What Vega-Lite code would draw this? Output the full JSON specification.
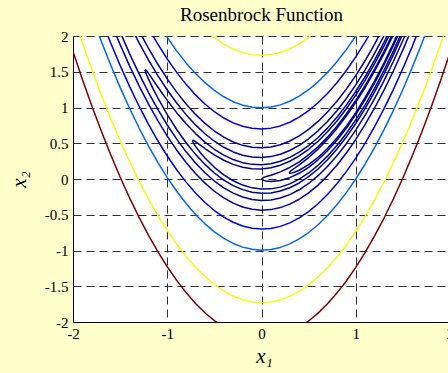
{
  "$schema": "https://vega.github.io/schema/vega-lite/v6.json",
  "width": 377,
  "height": 286,
  "autosize": {"type": "none"},
  "padding": {"left": 73, "top": 36, "right": 0, "bottom": 51},
  "background": "#ffffcc",
  "config": {
    "view": {"fill": "white", "stroke": null},
    "font": "Liberation Serif",
    "axis": {
      "domainColor": "black",
      "domainWidth": 1,
      "ticks": false,
      "grid": true,
      "gridColor": "#303030",
      "gridDash": [8, 5],
      "gridWidth": 1,
      "gridOpacity": 1,
      "labelFont": "Liberation Serif",
      "labelFontSize": 15,
      "labelColor": "black",
      "labelFlush": false,
      "labelOverlap": false,
      "labelExpr": "'' + datum.value",
      "titleFont": "Liberation Serif",
      "titleFontStyle": "italic",
      "titleFontWeight": "normal",
      "titleFontSize": 21,
      "titleColor": "black"
    }
  },
  "title": {
    "text": "Rosenbrock Function",
    "font": "Liberation Serif",
    "fontSize": 19,
    "fontWeight": "normal",
    "color": "black",
    "anchor": "middle",
    "offset": 4
  },
  "data": {
    "values": [
      {"lv":500,"br":"lo","x1":-2,"x2":1.784},{"lv":500,"br":"lo","x1":-1.9,"x2":1.393},{"lv":500,"br":"lo","x1":-1.8,"x2":1.0215},{"lv":500,"br":"lo","x1":-1.7,"x2":0.67},{"lv":500,"br":"lo","x1":-1.6,"x2":0.339},{"lv":500,"br":"lo","x1":-1.5,"x2":0.028},{"lv":500,"br":"lo","x1":-1.4,"x2":-0.263},{"lv":500,"br":"lo","x1":-1.3,"x2":-0.534},{"lv":500,"br":"lo","x1":-1.2,"x2":-0.785},{"lv":500,"br":"lo","x1":-1.1,"x2":-1.016},{"lv":500,"br":"lo","x1":-1,"x2":-1.227},{"lv":500,"br":"lo","x1":-0.9,"x2":-1.418},{"lv":500,"br":"lo","x1":-0.8,"x2":-1.589},{"lv":500,"br":"lo","x1":-0.7,"x2":-1.74},{"lv":500,"br":"lo","x1":-0.6,"x2":-1.87},{"lv":500,"br":"lo","x1":-0.5,"x2":-1.981},{"lv":500,"br":"lo","x1":-0.4,"x2":-2.072},{"lv":500,"br":"lo","x1":0.4,"x2":-2.075},{"lv":500,"br":"lo","x1":0.5,"x2":-1.9855},{"lv":500,"br":"lo","x1":0.6,"x2":-1.876},{"lv":500,"br":"lo","x1":0.7,"x2":-1.746},{"lv":500,"br":"lo","x1":0.8,"x2":-1.596},{"lv":500,"br":"lo","x1":0.9,"x2":-1.426},{"lv":500,"br":"lo","x1":1,"x2":-1.236},{"lv":500,"br":"lo","x1":1.1,"x2":-1.026},{"lv":500,"br":"lo","x1":1.2,"x2":-0.796},{"lv":500,"br":"lo","x1":1.3,"x2":-0.546},{"lv":500,"br":"lo","x1":1.4,"x2":-0.276},{"lv":500,"br":"lo","x1":1.5,"x2":0.0145},{"lv":500,"br":"lo","x1":1.6,"x2":0.325},{"lv":500,"br":"lo","x1":1.7,"x2":0.655},{"lv":500,"br":"lo","x1":1.8,"x2":1.005},{"lv":500,"br":"lo","x1":1.9,"x2":1.376},{"lv":500,"br":"lo","x1":2,"x2":1.766},

      {"lv":300,"br":"up","x1":-0.6,"x2":2.085},{"lv":300,"br":"up","x1":-0.5,"x2":1.9755},{"lv":300,"br":"up","x1":-0.4,"x2":1.8864},{"lv":300,"br":"up","x1":-0.3,"x2":1.8172},{"lv":300,"br":"up","x1":-0.2,"x2":1.7679},{"lv":300,"br":"up","x1":-0.1,"x2":1.7386},{"lv":300,"br":"up","x1":0,"x2":1.7292},{"lv":300,"br":"up","x1":0.1,"x2":1.7397},{"lv":300,"br":"up","x1":0.2,"x2":1.7702},{"lv":300,"br":"up","x1":0.3,"x2":1.8206},{"lv":300,"br":"up","x1":0.4,"x2":1.891},{"lv":300,"br":"up","x1":0.5,"x2":1.9813},{"lv":300,"br":"up","x1":0.6,"x2":2.0916},

      {"lv":300,"br":"lo","x1":-2,"x2":2.294},{"lv":300,"br":"lo","x1":-1.9,"x2":1.9024},{"lv":300,"br":"lo","x1":-1.8,"x2":1.5307},{"lv":300,"br":"lo","x1":-1.7,"x2":1.1791},{"lv":300,"br":"lo","x1":-1.6,"x2":0.8476},{"lv":300,"br":"lo","x1":-1.5,"x2":0.5361},{"lv":300,"br":"lo","x1":-1.4,"x2":0.2447},{"lv":300,"br":"lo","x1":-1.3,"x2":-0.0267},{"lv":300,"br":"lo","x1":-1.2,"x2":-0.278},{"lv":300,"br":"lo","x1":-1.1,"x2":-0.5093},{"lv":300,"br":"lo","x1":-1,"x2":-0.7205},{"lv":300,"br":"lo","x1":-0.9,"x2":-0.9116},{"lv":300,"br":"lo","x1":-0.8,"x2":-1.0827},{"lv":300,"br":"lo","x1":-0.7,"x2":-1.2337},{"lv":300,"br":"lo","x1":-0.6,"x2":-1.3646},{"lv":300,"br":"lo","x1":-0.5,"x2":-1.4755},{"lv":300,"br":"lo","x1":-0.4,"x2":-1.5664},{"lv":300,"br":"lo","x1":-0.3,"x2":-1.6372},{"lv":300,"br":"lo","x1":-0.2,"x2":-1.6879},{"lv":300,"br":"lo","x1":-0.1,"x2":-1.7186},{"lv":300,"br":"lo","x1":0,"x2":-1.7292},{"lv":300,"br":"lo","x1":0.1,"x2":-1.7197},{"lv":300,"br":"lo","x1":0.2,"x2":-1.6902},{"lv":300,"br":"lo","x1":0.3,"x2":-1.6406},{"lv":300,"br":"lo","x1":0.4,"x2":-1.571},{"lv":300,"br":"lo","x1":0.5,"x2":-1.4813},{"lv":300,"br":"lo","x1":0.6,"x2":-1.3716},{"lv":300,"br":"lo","x1":0.7,"x2":-1.2418},{"lv":300,"br":"lo","x1":0.8,"x2":-1.0919},{"lv":300,"br":"lo","x1":0.9,"x2":-0.922},{"lv":300,"br":"lo","x1":1,"x2":-0.7321},{"lv":300,"br":"lo","x1":1.1,"x2":-0.522},{"lv":300,"br":"lo","x1":1.2,"x2":-0.2919},{"lv":300,"br":"lo","x1":1.3,"x2":-0.0418},{"lv":300,"br":"lo","x1":1.4,"x2":0.2284},{"lv":300,"br":"lo","x1":1.5,"x2":0.5187},{"lv":300,"br":"lo","x1":1.6,"x2":0.829},{"lv":300,"br":"lo","x1":1.7,"x2":1.1594},{"lv":300,"br":"lo","x1":1.8,"x2":1.5098},{"lv":300,"br":"lo","x1":1.9,"x2":1.8803},{"lv":300,"br":"lo","x1":2,"x2":2.2708},

      {"lv":100,"br":"up","x1":-1.1,"x2":2.1877},{"lv":100,"br":"up","x1":-1,"x2":1.9798},{"lv":100,"br":"up","x1":-0.9,"x2":1.7918},{"lv":100,"br":"up","x1":-0.8,"x2":1.6237},{"lv":100,"br":"up","x1":-0.7,"x2":1.4754},{"lv":100,"br":"up","x1":-0.6,"x2":1.3471},{"lv":100,"br":"up","x1":-0.5,"x2":1.2387},{"lv":100,"br":"up","x1":-0.4,"x2":1.1502},{"lv":100,"br":"up","x1":-0.3,"x2":1.0815},{"lv":100,"br":"up","x1":-0.2,"x2":1.0328},{"lv":100,"br":"up","x1":-0.1,"x2":1.0039},{"lv":100,"br":"up","x1":0,"x2":0.995},{"lv":100,"br":"up","x1":0.1,"x2":1.0059},{"lv":100,"br":"up","x1":0.2,"x2":1.0368},{"lv":100,"br":"up","x1":0.3,"x2":1.0876},{"lv":100,"br":"up","x1":0.4,"x2":1.1582},{"lv":100,"br":"up","x1":0.5,"x2":1.2488},{"lv":100,"br":"up","x1":0.6,"x2":1.3592},{"lv":100,"br":"up","x1":0.7,"x2":1.4896},{"lv":100,"br":"up","x1":0.8,"x2":1.6398},{"lv":100,"br":"up","x1":0.9,"x2":1.8099},{"lv":100,"br":"up","x1":1,"x2":2},{"lv":100,"br":"up","x1":1.1,"x2":2.21},

      {"lv":100,"br":"lo","x1":-1.8,"x2":2.28},{"lv":100,"br":"lo","x1":-1.7,"x2":1.9271},{"lv":100,"br":"lo","x1":-1.6,"x2":1.5944},{"lv":100,"br":"lo","x1":-1.5,"x2":1.2818},{"lv":100,"br":"lo","x1":-1.4,"x2":0.9892},{"lv":100,"br":"lo","x1":-1.3,"x2":0.7168},{"lv":100,"br":"lo","x1":-1.2,"x2":0.4645},{"lv":100,"br":"lo","x1":-1.1,"x2":0.2323},{"lv":100,"br":"lo","x1":-1,"x2":0.0202},{"lv":100,"br":"lo","x1":-0.9,"x2":-0.1718},{"lv":100,"br":"lo","x1":-0.8,"x2":-0.3437},{"lv":100,"br":"lo","x1":-0.7,"x2":-0.4954},{"lv":100,"br":"lo","x1":-0.6,"x2":-0.6271},{"lv":100,"br":"lo","x1":-0.5,"x2":-0.7387},{"lv":100,"br":"lo","x1":-0.4,"x2":-0.8302},{"lv":100,"br":"lo","x1":-0.3,"x2":-0.9015},{"lv":100,"br":"lo","x1":-0.2,"x2":-0.9528},{"lv":100,"br":"lo","x1":-0.1,"x2":-0.9839},{"lv":100,"br":"lo","x1":0,"x2":-0.995},{"lv":100,"br":"lo","x1":0.1,"x2":-0.9859},{"lv":100,"br":"lo","x1":0.2,"x2":-0.9568},{"lv":100,"br":"lo","x1":0.3,"x2":-0.9076},{"lv":100,"br":"lo","x1":0.4,"x2":-0.8382},{"lv":100,"br":"lo","x1":0.5,"x2":-0.7488},{"lv":100,"br":"lo","x1":0.6,"x2":-0.6392},{"lv":100,"br":"lo","x1":0.7,"x2":-0.5096},{"lv":100,"br":"lo","x1":0.8,"x2":-0.3598},{"lv":100,"br":"lo","x1":0.9,"x2":-0.19},{"lv":100,"br":"lo","x1":1,"x2":0},{"lv":100,"br":"lo","x1":1.1,"x2":0.21},{"lv":100,"br":"lo","x1":1.2,"x2":0.4402},{"lv":100,"br":"lo","x1":1.3,"x2":0.6905},{"lv":100,"br":"lo","x1":1.4,"x2":0.9608},{"lv":100,"br":"lo","x1":1.5,"x2":1.2513},{"lv":100,"br":"lo","x1":1.6,"x2":1.5618},{"lv":100,"br":"lo","x1":1.7,"x2":1.8925},{"lv":100,"br":"lo","x1":1.8,"x2":2.2432},

      {"lv":50,"br":"up","x1":-1.2,"x2":2.112},{"lv":50,"br":"up","x1":-1.1,"x2":1.8852},{"lv":50,"br":"up","x1":-1,"x2":1.6782},{"lv":50,"br":"up","x1":-0.9,"x2":1.4911},{"lv":50,"br":"up","x1":-0.8,"x2":1.3238},{"lv":50,"br":"up","x1":-0.7,"x2":1.1764},{"lv":50,"br":"up","x1":-0.6,"x2":1.0488},{"lv":50,"br":"up","x1":-0.5,"x2":0.941},{"lv":50,"br":"up","x1":-0.4,"x2":0.8531},{"lv":50,"br":"up","x1":-0.3,"x2":0.7851},{"lv":50,"br":"up","x1":-0.2,"x2":0.7369},{"lv":50,"br":"up","x1":-0.1,"x2":0.7085},{"lv":50,"br":"up","x1":0,"x2":0.7},{"lv":50,"br":"up","x1":0.1,"x2":0.7114},{"lv":50,"br":"up","x1":0.2,"x2":0.7426},{"lv":50,"br":"up","x1":0.3,"x2":0.7936},{"lv":50,"br":"up","x1":0.4,"x2":0.8646},{"lv":50,"br":"up","x1":0.5,"x2":0.9553},{"lv":50,"br":"up","x1":0.6,"x2":1.066},{"lv":50,"br":"up","x1":0.7,"x2":1.1965},{"lv":50,"br":"up","x1":0.8,"x2":1.3468},{"lv":50,"br":"up","x1":0.9,"x2":1.517},{"lv":50,"br":"up","x1":1,"x2":1.7071},{"lv":50,"br":"up","x1":1.1,"x2":1.917},{"lv":50,"br":"up","x1":1.2,"x2":2.1468},

      {"lv":50,"br":"lo","x1":-1.7,"x2":2.2365},{"lv":50,"br":"lo","x1":-1.6,"x2":1.9024},{"lv":50,"br":"lo","x1":-1.5,"x2":1.5886},{"lv":50,"br":"lo","x1":-1.4,"x2":1.2949},{"lv":50,"br":"lo","x1":-1.3,"x2":1.0214},{"lv":50,"br":"lo","x1":-1.2,"x2":0.768},{"lv":50,"br":"lo","x1":-1.1,"x2":0.5348},{"lv":50,"br":"lo","x1":-1,"x2":0.3218},{"lv":50,"br":"lo","x1":-0.9,"x2":0.1289},{"lv":50,"br":"lo","x1":-0.8,"x2":-0.0438},{"lv":50,"br":"lo","x1":-0.7,"x2":-0.1964},{"lv":50,"br":"lo","x1":-0.6,"x2":-0.3288},{"lv":50,"br":"lo","x1":-0.5,"x2":-0.441},{"lv":50,"br":"lo","x1":-0.4,"x2":-0.5331},{"lv":50,"br":"lo","x1":-0.3,"x2":-0.6051},{"lv":50,"br":"lo","x1":-0.2,"x2":-0.6569},{"lv":50,"br":"lo","x1":-0.1,"x2":-0.6885},{"lv":50,"br":"lo","x1":0,"x2":-0.7},{"lv":50,"br":"lo","x1":0.1,"x2":-0.6914},{"lv":50,"br":"lo","x1":0.2,"x2":-0.6626},{"lv":50,"br":"lo","x1":0.3,"x2":-0.6136},{"lv":50,"br":"lo","x1":0.4,"x2":-0.5446},{"lv":50,"br":"lo","x1":0.5,"x2":-0.4553},{"lv":50,"br":"lo","x1":0.6,"x2":-0.346},{"lv":50,"br":"lo","x1":0.7,"x2":-0.2165},{"lv":50,"br":"lo","x1":0.8,"x2":-0.0668},{"lv":50,"br":"lo","x1":0.9,"x2":0.103},{"lv":50,"br":"lo","x1":1,"x2":0.2929},{"lv":50,"br":"lo","x1":1.1,"x2":0.503},{"lv":50,"br":"lo","x1":1.2,"x2":0.7332},{"lv":50,"br":"lo","x1":1.3,"x2":0.9835},{"lv":50,"br":"lo","x1":1.4,"x2":1.254},{"lv":50,"br":"lo","x1":1.5,"x2":1.5447},{"lv":50,"br":"lo","x1":1.6,"x2":1.8554},{"lv":50,"br":"lo","x1":1.7,"x2":2.1864},

      {"lv":20,"br":"up","x1":-1.3,"x2":2.0735},{"lv":20,"br":"up","x1":-1.2,"x2":1.8294},{"lv":20,"br":"up","x1":-1.1,"x2":1.6048},{"lv":20,"br":"up","x1":-1,"x2":1.4},{"lv":20,"br":"up","x1":-0.9,"x2":1.2149},{"lv":20,"br":"up","x1":-0.8,"x2":1.0494},{"lv":20,"br":"up","x1":-0.7,"x2":0.9036},{"lv":20,"br":"up","x1":-0.6,"x2":0.7776},{"lv":20,"br":"up","x1":-0.5,"x2":0.6713},{"lv":20,"br":"up","x1":-0.4,"x2":0.5847},{"lv":20,"br":"up","x1":-0.3,"x2":0.5179},{"lv":20,"br":"up","x1":-0.2,"x2":0.4708},{"lv":20,"br":"up","x1":-0.1,"x2":0.4435},{"lv":20,"br":"up","x1":0,"x2":0.4359},{"lv":20,"br":"up","x1":0.1,"x2":0.4481},{"lv":20,"br":"up","x1":0.2,"x2":0.48},{"lv":20,"br":"up","x1":0.3,"x2":0.5317},{"lv":20,"br":"up","x1":0.4,"x2":0.6032},{"lv":20,"br":"up","x1":0.5,"x2":0.6944},{"lv":20,"br":"up","x1":0.6,"x2":0.8054},{"lv":20,"br":"up","x1":0.7,"x2":0.9362},{"lv":20,"br":"up","x1":0.8,"x2":1.0868},{"lv":20,"br":"up","x1":0.9,"x2":1.2571},{"lv":20,"br":"up","x1":1,"x2":1.4472},{"lv":20,"br":"up","x1":1.1,"x2":1.6571},{"lv":20,"br":"up","x1":1.2,"x2":1.8868},{"lv":20,"br":"up","x1":1.3,"x2":2.1362},

      {"lv":20,"br":"lo","x1":-1.6,"x2":2.1961},{"lv":20,"br":"lo","x1":-1.5,"x2":1.8792},{"lv":20,"br":"lo","x1":-1.4,"x2":1.5826},{"lv":20,"br":"lo","x1":-1.3,"x2":1.3065},{"lv":20,"br":"lo","x1":-1.2,"x2":1.0506},{"lv":20,"br":"lo","x1":-1.1,"x2":0.8152},{"lv":20,"br":"lo","x1":-1,"x2":0.6},{"lv":20,"br":"lo","x1":-0.9,"x2":0.4051},{"lv":20,"br":"lo","x1":-0.8,"x2":0.2306},{"lv":20,"br":"lo","x1":-0.7,"x2":0.0764},{"lv":20,"br":"lo","x1":-0.6,"x2":-0.0576},{"lv":20,"br":"lo","x1":-0.5,"x2":-0.1713},{"lv":20,"br":"lo","x1":-0.4,"x2":-0.2647},{"lv":20,"br":"lo","x1":-0.3,"x2":-0.3379},{"lv":20,"br":"lo","x1":-0.2,"x2":-0.3908},{"lv":20,"br":"lo","x1":-0.1,"x2":-0.4235},{"lv":20,"br":"lo","x1":0,"x2":-0.4359},{"lv":20,"br":"lo","x1":0.1,"x2":-0.4281},{"lv":20,"br":"lo","x1":0.2,"x2":-0.4},{"lv":20,"br":"lo","x1":0.3,"x2":-0.3517},{"lv":20,"br":"lo","x1":0.4,"x2":-0.2832},{"lv":20,"br":"lo","x1":0.5,"x2":-0.1944},{"lv":20,"br":"lo","x1":0.6,"x2":-0.0854},{"lv":20,"br":"lo","x1":0.7,"x2":0.0438},{"lv":20,"br":"lo","x1":0.8,"x2":0.1932},{"lv":20,"br":"lo","x1":0.9,"x2":0.3629},{"lv":20,"br":"lo","x1":1,"x2":0.5528},{"lv":20,"br":"lo","x1":1.1,"x2":0.7629},{"lv":20,"br":"lo","x1":1.2,"x2":0.9932},{"lv":20,"br":"lo","x1":1.3,"x2":1.2438},{"lv":20,"br":"lo","x1":1.4,"x2":1.5146},{"lv":20,"br":"lo","x1":1.5,"x2":1.8056},{"lv":20,"br":"lo","x1":1.6,"x2":2.1168},

      {"lv":10,"br":"up","x1":-1.4,"x2":2.1659},{"lv":10,"br":"up","x1":-1.3,"x2":1.907},{"lv":10,"br":"up","x1":-1.2,"x2":1.6672},{"lv":10,"br":"up","x1":-1.1,"x2":1.4464},{"lv":10,"br":"up","x1":-1,"x2":1.2449},{"lv":10,"br":"up","x1":-0.9,"x2":1.0628},{"lv":10,"br":"up","x1":-0.8,"x2":0.9},{"lv":10,"br":"up","x1":-0.7,"x2":0.7567},{"lv":10,"br":"up","x1":-0.6,"x2":0.6328},{"lv":10,"br":"up","x1":-0.5,"x2":0.5284},{"lv":10,"br":"up","x1":-0.4,"x2":0.4435},{"lv":10,"br":"up","x1":-0.3,"x2":0.3783},{"lv":10,"br":"up","x1":-0.2,"x2":0.3326},{"lv":10,"br":"up","x1":-0.1,"x2":0.3065},{"lv":10,"br":"up","x1":0,"x2":0.3},{"lv":10,"br":"up","x1":0.1,"x2":0.3132},{"lv":10,"br":"up","x1":0.2,"x2":0.3459},{"lv":10,"br":"up","x1":0.3,"x2":0.3984},{"lv":10,"br":"up","x1":0.4,"x2":0.4705},{"lv":10,"br":"up","x1":0.5,"x2":0.5623},{"lv":10,"br":"up","x1":0.6,"x2":0.6737},{"lv":10,"br":"up","x1":0.7,"x2":0.8048},{"lv":10,"br":"up","x1":0.8,"x2":0.9556},{"lv":10,"br":"up","x1":0.9,"x2":1.1261},{"lv":10,"br":"up","x1":1,"x2":1.3162},{"lv":10,"br":"up","x1":1.1,"x2":1.5261},{"lv":10,"br":"up","x1":1.2,"x2":1.7556},{"lv":10,"br":"up","x1":1.3,"x2":2.0048},{"lv":10,"br":"up","x1":1.4,"x2":2.2737},

      {"lv":10,"br":"lo","x1":-1.5,"x2":2.0564},{"lv":10,"br":"lo","x1":-1.4,"x2":1.7541},{"lv":10,"br":"lo","x1":-1.3,"x2":1.473},{"lv":10,"br":"lo","x1":-1.2,"x2":1.2128},{"lv":10,"br":"lo","x1":-1.1,"x2":0.9736},{"lv":10,"br":"lo","x1":-1,"x2":0.7551},{"lv":10,"br":"lo","x1":-0.9,"x2":0.5572},{"lv":10,"br":"lo","x1":-0.8,"x2":0.38},{"lv":10,"br":"lo","x1":-0.7,"x2":0.2233},{"lv":10,"br":"lo","x1":-0.6,"x2":0.0872},{"lv":10,"br":"lo","x1":-0.5,"x2":-0.0284},{"lv":10,"br":"lo","x1":-0.4,"x2":-0.1236},{"lv":10,"br":"lo","x1":-0.3,"x2":-0.1983},{"lv":10,"br":"lo","x1":-0.2,"x2":-0.2526},{"lv":10,"br":"lo","x1":-0.1,"x2":-0.2865},{"lv":10,"br":"lo","x1":0,"x2":-0.3},{"lv":10,"br":"lo","x1":0.1,"x2":-0.2932},{"lv":10,"br":"lo","x1":0.2,"x2":-0.2659},{"lv":10,"br":"lo","x1":0.3,"x2":-0.2184},{"lv":10,"br":"lo","x1":0.4,"x2":-0.1505},{"lv":10,"br":"lo","x1":0.5,"x2":-0.0623},{"lv":10,"br":"lo","x1":0.6,"x2":0.0463},{"lv":10,"br":"lo","x1":0.7,"x2":0.1752},{"lv":10,"br":"lo","x1":0.8,"x2":0.3244},{"lv":10,"br":"lo","x1":0.9,"x2":0.4939},{"lv":10,"br":"lo","x1":1,"x2":0.6838},{"lv":10,"br":"lo","x1":1.1,"x2":0.8939},{"lv":10,"br":"lo","x1":1.2,"x2":1.1244},{"lv":10,"br":"lo","x1":1.3,"x2":1.3752},{"lv":10,"br":"lo","x1":1.4,"x2":1.6463},{"lv":10,"br":"lo","x1":1.5,"x2":1.9378},{"lv":10,"br":"lo","x1":1.6,"x2":2.2495},

      {"lv":5,"br":"loop","x1":-1.2361,"x2":1.5279},{"lv":5,"br":"loop","x1":-1.23,"x2":1.5294},{"lv":5,"br":"loop","x1":-1.22,"x2":1.5152},{"lv":5,"br":"loop","x1":-1.2,"x2":1.48},{"lv":5,"br":"loop","x1":-1.15,"x2":1.3839},{"lv":5,"br":"loop","x1":-1.1,"x2":1.2868},{"lv":5,"br":"loop","x1":-1,"x2":1.1},{"lv":5,"br":"loop","x1":-0.9,"x2":0.9279},{"lv":5,"br":"loop","x1":-0.8,"x2":0.7727},{"lv":5,"br":"loop","x1":-0.7,"x2":0.6353},{"lv":5,"br":"loop","x1":-0.6,"x2":0.5162},{"lv":5,"br":"loop","x1":-0.5,"x2":0.4158},{"lv":5,"br":"loop","x1":-0.4,"x2":0.3344},{"lv":5,"br":"loop","x1":-0.3,"x2":0.2719},{"lv":5,"br":"loop","x1":-0.2,"x2":0.2287},{"lv":5,"br":"loop","x1":-0.1,"x2":0.2047},{"lv":5,"br":"loop","x1":0,"x2":0.2},{"lv":5,"br":"loop","x1":0.1,"x2":0.2147},{"lv":5,"br":"loop","x1":0.2,"x2":0.2488},{"lv":5,"br":"loop","x1":0.3,"x2":0.3024},{"lv":5,"br":"loop","x1":0.4,"x2":0.3754},{"lv":5,"br":"loop","x1":0.5,"x2":0.4679},{"lv":5,"br":"loop","x1":0.6,"x2":0.58},{"lv":5,"br":"loop","x1":0.7,"x2":0.7116},{"lv":5,"br":"loop","x1":0.8,"x2":0.8627},{"lv":5,"br":"loop","x1":0.9,"x2":1.0334},{"lv":5,"br":"loop","x1":1,"x2":1.2236},{"lv":5,"br":"loop","x1":1.1,"x2":1.4334},{"lv":5,"br":"loop","x1":1.2,"x2":1.6627},{"lv":5,"br":"loop","x1":1.3,"x2":1.9116},{"lv":5,"br":"loop","x1":1.4,"x2":2.18},{"lv":5,"br":"loop","x1":1.5,"x2":2.0321},{"lv":5,"br":"loop","x1":1.4,"x2":1.74},{"lv":5,"br":"loop","x1":1.3,"x2":1.4684},{"lv":5,"br":"loop","x1":1.2,"x2":1.2173},{"lv":5,"br":"loop","x1":1.1,"x2":0.9866},{"lv":5,"br":"loop","x1":1,"x2":0.7764},{"lv":5,"br":"loop","x1":0.9,"x2":0.5866},{"lv":5,"br":"loop","x1":0.8,"x2":0.4173},{"lv":5,"br":"loop","x1":0.7,"x2":0.2684},{"lv":5,"br":"loop","x1":0.6,"x2":0.14},{"lv":5,"br":"loop","x1":0.5,"x2":0.0321},{"lv":5,"br":"loop","x1":0.4,"x2":-0.0554},{"lv":5,"br":"loop","x1":0.3,"x2":-0.1224},{"lv":5,"br":"loop","x1":0.2,"x2":-0.1688},{"lv":5,"br":"loop","x1":0.1,"x2":-0.1947},{"lv":5,"br":"loop","x1":0,"x2":-0.2},{"lv":5,"br":"loop","x1":-0.1,"x2":-0.1847},{"lv":5,"br":"loop","x1":-0.2,"x2":-0.1487},{"lv":5,"br":"loop","x1":-0.3,"x2":-0.0919},{"lv":5,"br":"loop","x1":-0.4,"x2":-0.0144},{"lv":5,"br":"loop","x1":-0.5,"x2":0.0842},{"lv":5,"br":"loop","x1":-0.6,"x2":0.2038},{"lv":5,"br":"loop","x1":-0.7,"x2":0.3447},{"lv":5,"br":"loop","x1":-0.8,"x2":0.5073},{"lv":5,"br":"loop","x1":-0.9,"x2":0.6921},{"lv":5,"br":"loop","x1":-1,"x2":0.9},{"lv":5,"br":"loop","x1":-1.1,"x2":1.1332},{"lv":5,"br":"loop","x1":-1.15,"x2":1.2611},{"lv":5,"br":"loop","x1":-1.2,"x2":1.4},{"lv":5,"br":"loop","x1":-1.22,"x2":1.4616},{"lv":5,"br":"loop","x1":-1.23,"x2":1.4964},{"lv":5,"br":"loop","x1":-1.2361,"x2":1.5279},

      {"lv":3,"br":"loop","x1":-0.7321,"x2":0.5359},{"lv":3,"br":"loop","x1":-0.73,"x2":0.5413},{"lv":3,"br":"loop","x1":-0.72,"x2":0.5388},{"lv":3,"br":"loop","x1":-0.7,"x2":0.5232},{"lv":3,"br":"loop","x1":-0.65,"x2":0.4752},{"lv":3,"br":"loop","x1":-0.6,"x2":0.4263},{"lv":3,"br":"loop","x1":-0.5,"x2":0.3366},{"lv":3,"br":"loop","x1":-0.4,"x2":0.262},{"lv":3,"br":"loop","x1":-0.3,"x2":0.2045},{"lv":3,"br":"loop","x1":-0.2,"x2":0.1649},{"lv":3,"br":"loop","x1":-0.1,"x2":0.1438},{"lv":3,"br":"loop","x1":0,"x2":0.1414},{"lv":3,"br":"loop","x1":0.1,"x2":0.158},{"lv":3,"br":"loop","x1":0.2,"x2":0.1936},{"lv":3,"br":"loop","x1":0.3,"x2":0.2484},{"lv":3,"br":"loop","x1":0.4,"x2":0.3225},{"lv":3,"br":"loop","x1":0.5,"x2":0.4158},{"lv":3,"br":"loop","x1":0.6,"x2":0.5285},{"lv":3,"br":"loop","x1":0.7,"x2":0.6606},{"lv":3,"br":"loop","x1":0.8,"x2":0.812},{"lv":3,"br":"loop","x1":0.9,"x2":0.9829},{"lv":3,"br":"loop","x1":1,"x2":1.1732},{"lv":3,"br":"loop","x1":1.1,"x2":1.3829},{"lv":3,"br":"loop","x1":1.2,"x2":1.612},{"lv":3,"br":"loop","x1":1.3,"x2":1.8606},{"lv":3,"br":"loop","x1":1.4,"x2":2.1285},{"lv":3,"br":"loop","x1":1.5,"x2":2.0842},{"lv":3,"br":"loop","x1":1.4,"x2":1.7915},{"lv":3,"br":"loop","x1":1.3,"x2":1.5194},{"lv":3,"br":"loop","x1":1.2,"x2":1.268},{"lv":3,"br":"loop","x1":1.1,"x2":1.0371},{"lv":3,"br":"loop","x1":1,"x2":0.8268},{"lv":3,"br":"loop","x1":0.9,"x2":0.6371},{"lv":3,"br":"loop","x1":0.8,"x2":0.468},{"lv":3,"br":"loop","x1":0.7,"x2":0.3194},{"lv":3,"br":"loop","x1":0.6,"x2":0.1915},{"lv":3,"br":"loop","x1":0.5,"x2":0.0842},{"lv":3,"br":"loop","x1":0.4,"x2":-0.0025},{"lv":3,"br":"loop","x1":0.3,"x2":-0.0684},{"lv":3,"br":"loop","x1":0.2,"x2":-0.1136},{"lv":3,"br":"loop","x1":0.1,"x2":-0.138},{"lv":3,"br":"loop","x1":0,"x2":-0.1414},{"lv":3,"br":"loop","x1":-0.1,"x2":-0.1238},{"lv":3,"br":"loop","x1":-0.2,"x2":-0.0849},{"lv":3,"br":"loop","x1":-0.3,"x2":-0.0245},{"lv":3,"br":"loop","x1":-0.4,"x2":0.058},{"lv":3,"br":"loop","x1":-0.5,"x2":0.1634},{"lv":3,"br":"loop","x1":-0.6,"x2":0.2937},{"lv":3,"br":"loop","x1":-0.65,"x2":0.3698},{"lv":3,"br":"loop","x1":-0.7,"x2":0.4568},{"lv":3,"br":"loop","x1":-0.72,"x2":0.498},{"lv":3,"br":"loop","x1":-0.73,"x2":0.5245},{"lv":3,"br":"loop","x1":-0.7321,"x2":0.5359},

      {"lv":1,"br":"loop","x1":0,"x2":0},{"lv":1,"br":"loop","x1":0.02,"x2":0.0203},{"lv":1,"br":"loop","x1":0.05,"x2":0.0337},{"lv":1,"br":"loop","x1":0.1,"x2":0.0536},{"lv":1,"br":"loop","x1":0.2,"x2":0.1},{"lv":1,"br":"loop","x1":0.3,"x2":0.1614},{"lv":1,"br":"loop","x1":0.4,"x2":0.24},{"lv":1,"br":"loop","x1":0.5,"x2":0.3366},{"lv":1,"br":"loop","x1":0.6,"x2":0.4517},{"lv":1,"br":"loop","x1":0.7,"x2":0.5854},{"lv":1,"br":"loop","x1":0.8,"x2":0.738},{"lv":1,"br":"loop","x1":0.9,"x2":0.9095},{"lv":1,"br":"loop","x1":1,"x2":1.1},{"lv":1,"br":"loop","x1":1.1,"x2":1.3095},{"lv":1,"br":"loop","x1":1.2,"x2":1.538},{"lv":1,"br":"loop","x1":1.3,"x2":1.7854},{"lv":1,"br":"loop","x1":1.4,"x2":2.0517},{"lv":1,"br":"loop","x1":1.5,"x2":2.1634},{"lv":1,"br":"loop","x1":1.4,"x2":1.8683},{"lv":1,"br":"loop","x1":1.3,"x2":1.5946},{"lv":1,"br":"loop","x1":1.2,"x2":1.342},{"lv":1,"br":"loop","x1":1.1,"x2":1.1105},{"lv":1,"br":"loop","x1":1,"x2":0.9},{"lv":1,"br":"loop","x1":0.9,"x2":0.7105},{"lv":1,"br":"loop","x1":0.8,"x2":0.542},{"lv":1,"br":"loop","x1":0.7,"x2":0.3946},{"lv":1,"br":"loop","x1":0.6,"x2":0.2683},{"lv":1,"br":"loop","x1":0.5,"x2":0.1634},{"lv":1,"br":"loop","x1":0.4,"x2":0.08},{"lv":1,"br":"loop","x1":0.3,"x2":0.0186},{"lv":1,"br":"loop","x1":0.2,"x2":-0.02},{"lv":1,"br":"loop","x1":0.1,"x2":-0.0336},{"lv":1,"br":"loop","x1":0.05,"x2":-0.0287},{"lv":1,"br":"loop","x1":0.02,"x2":-0.0195},{"lv":1,"br":"loop","x1":0,"x2":0},

      {"lv":0.5,"br":"loop","x1":0.2929,"x2":0.0858},{"lv":0.5,"br":"loop","x1":0.3,"x2":0.1},{"lv":0.5,"br":"loop","x1":0.32,"x2":0.1218},{"lv":0.5,"br":"loop","x1":0.35,"x2":0.1503},{"lv":0.5,"br":"loop","x1":0.4,"x2":0.1974},{"lv":0.5,"br":"loop","x1":0.5,"x2":0.3},{"lv":0.5,"br":"loop","x1":0.6,"x2":0.4183},{"lv":0.5,"br":"loop","x1":0.7,"x2":0.554},{"lv":0.5,"br":"loop","x1":0.8,"x2":0.7078},{"lv":0.5,"br":"loop","x1":0.9,"x2":0.88},{"lv":0.5,"br":"loop","x1":1,"x2":1.0707},{"lv":0.5,"br":"loop","x1":1.1,"x2":1.28},{"lv":0.5,"br":"loop","x1":1.2,"x2":1.5078},{"lv":0.5,"br":"loop","x1":1.3,"x2":1.754},{"lv":0.5,"br":"loop","x1":1.4,"x2":2.0183},{"lv":0.5,"br":"loop","x1":1.5,"x2":2.2},{"lv":0.5,"br":"loop","x1":1.4,"x2":1.9017},{"lv":0.5,"br":"loop","x1":1.3,"x2":1.626},{"lv":0.5,"br":"loop","x1":1.2,"x2":1.3722},{"lv":0.5,"br":"loop","x1":1.1,"x2":1.14},{"lv":0.5,"br":"loop","x1":1,"x2":0.9293},{"lv":0.5,"br":"loop","x1":0.9,"x2":0.74},{"lv":0.5,"br":"loop","x1":0.8,"x2":0.5722},{"lv":0.5,"br":"loop","x1":0.7,"x2":0.426},{"lv":0.5,"br":"loop","x1":0.6,"x2":0.3017},{"lv":0.5,"br":"loop","x1":0.5,"x2":0.2},{"lv":0.5,"br":"loop","x1":0.4,"x2":0.1226},{"lv":0.5,"br":"loop","x1":0.35,"x2":0.0947},{"lv":0.5,"br":"loop","x1":0.32,"x2":0.083},{"lv":0.5,"br":"loop","x1":0.3,"x2":0.08},{"lv":0.5,"br":"loop","x1":0.2929,"x2":0.0858}
    ]
  },
  "mark": {"type": "line", "clip": true, "strokeWidth": 1.5, "strokeJoin": "round"},
  "encoding": {
    "x": {
      "field": "x1",
      "type": "quantitative",
      "scale": {"domain": [-2, 2], "nice": false, "zero": false},
      "axis": {
        "values": [-2, -1, 0, 1, 2],
        "labelPadding": 4,
        "title": "x₁",
        "titleX": 191,
        "titleY": 40,
        "titleBaseline": "alphabetic"
      }
    },
    "y": {
      "field": "x2",
      "type": "quantitative",
      "scale": {"domain": [-2, 2], "nice": false, "zero": false},
      "axis": {
        "values": [-2, -1.5, -1, -0.5, 0, 0.5, 1, 1.5, 2],
        "labelPadding": 5,
        "title": "x₂",
        "titleX": -48,
        "titleY": 143,
        "titleAngle": -90,
        "titleAlign": "center",
        "titleBaseline": "alphabetic"
      }
    },
    "detail": {"field": "br"},
    "color": {
      "field": "lv",
      "type": "nominal",
      "scale": {
        "domain": [500, 300, 100, 50, 20, 10, 5, 3, 1, 0.5],
        "range": ["#800000", "#f0ff10", "#0064ff", "#0000f0", "#0000b0", "#0000a0", "#00008f", "#00008f", "#00008f", "#00008f"]
      },
      "legend": null
    },
    "order": {"value": null}
  }
}
